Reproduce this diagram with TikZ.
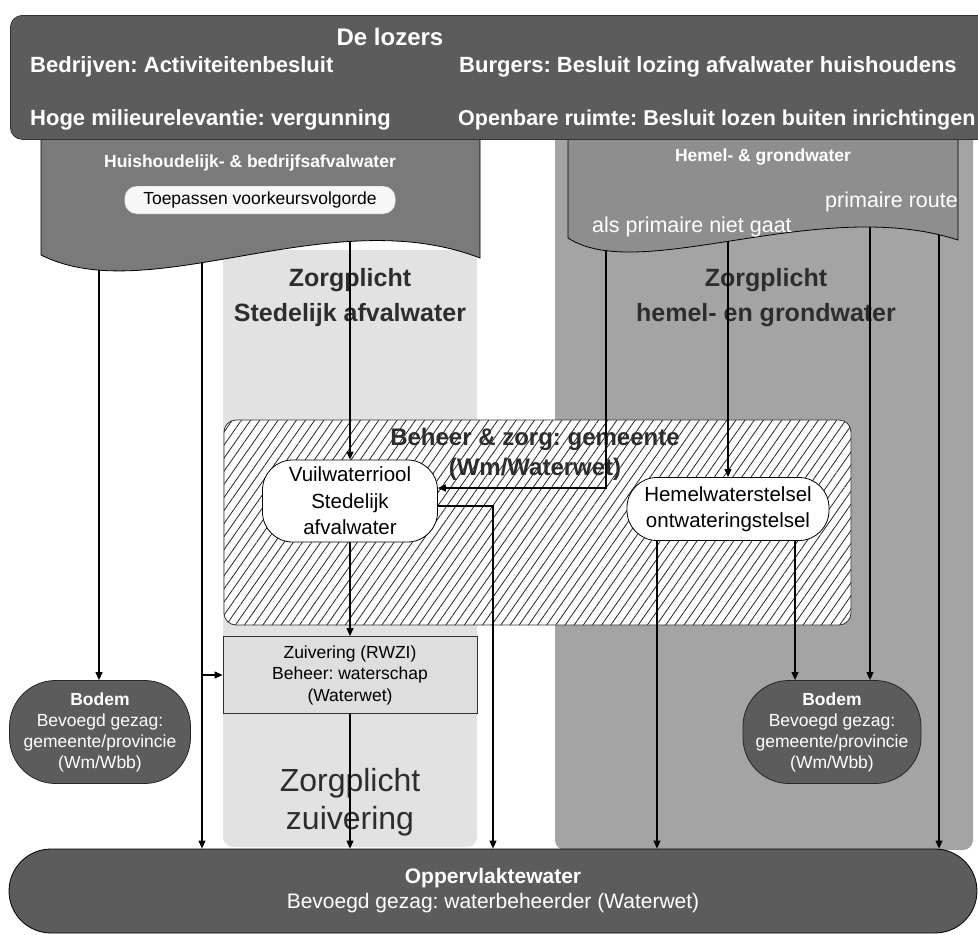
\documentclass[tikz,border=0pt]{standalone}
\usepackage{fontspec}
\setmainfont{Liberation Sans}
\usepackage{xcolor}
\definecolor{figdark}{RGB}{92,92,92}
\definecolor{figdocl}{RGB}{122,122,122}
\definecolor{figdocr}{RGB}{142,142,142}
\definecolor{figregion}{RGB}{164,164,164}
\definecolor{figlight}{RGB}{226,226,226}
\definecolor{figtext}{RGB}{45,45,45}
\usepackage{tikz}
\usetikzlibrary{arrows.meta,patterns.meta,positioning,calc}
\pgfdeclarelayer{bg}
\pgfdeclarelayer{mid}
\pgfsetlayers{bg,mid,main}
\frenchspacing

\begin{document}
\begin{tikzpicture}[x=1pt,y=-1pt,
  every node/.style={inner sep=0pt},
  toptxt/.style={anchor=west,text=white,font=\fontsize{22}{26}\selectfont\bfseries},
  doclbl/.style={text=white,font=\fontsize{17.5}{21}\selectfont\bfseries},
  wavelbl/.style={anchor=west,text=white,font=\fontsize{21.5}{25}\selectfont},
  zorg/.style={align=center,text=figtext,font=\fontsize{25}{35}\selectfont\bfseries},
  pill/.style={draw=black!45,fill=black!3,rounded corners=12pt,minimum width=271pt,minimum height=28pt,font=\fontsize{17.5}{21}\selectfont},
  riool/.style={draw,thick,fill=white,rounded corners=30pt,align=center,font=\fontsize{20.5}{26.5}\selectfont},
  zuiv/.style={draw=black!80,thick,fill=black!13,align=center,font=\fontsize{17.5}{21.5}\selectfont},
  bodem/.style={draw=black!85,thick,fill=figdark,text=white,rounded corners=46pt,align=center,font=\fontsize{17.5}{21}\selectfont},
  ar/.style={-{Triangle[length=8pt,width=7pt]},line width=1.1pt,black}
]
\useasboundingbox (0,0) rectangle (978,935);

% achtergrond: zorgplicht-kolommen
\begin{pgfonlayer}{bg}
\fill[figlight,rounded corners=10pt] (223,250) rectangle (477,847);
\fill[figregion,rounded corners=10pt] (555,130) rectangle (973,850);
\node[zorg] (zstad) at (350,298) {Zorgplicht\\Stedelijk afvalwater};
\node[zorg] (zhemel) at (766,298) {Zorgplicht\\hemel- en grondwater};
\node[zorg,font=\fontsize{32}{38}\selectfont] (zzuiv) at (350,802) {Zorgplicht\\zuivering};
\node[draw=black!80,line width=0.8pt,rounded corners=12pt,minimum width=627pt,minimum height=205pt,
  preaction={fill=white},pattern={Lines[angle=55,distance=7.5pt,line width=0.8pt]},pattern color=black!85]
  (beheer) at (537.5,522.5) {};
\node[align=center,text=figtext,font=\fontsize{24}{30}\selectfont\bfseries] (beheertitel) at (535,454)
  {Beheer \& zorg: gemeente\\(Wm/Waterwet)};
\end{pgfonlayer}

% de lozers en de twee waterstromen
\draw[fill=figdocl,thick] (41,135) -- (41,255) .. controls (150,310) and (330,200) .. (480,258) -- (480,135) -- cycle;
\draw[fill=figdocr,thick] (568,135) -- (568,238) .. controls (640,285) and (820,195) .. (958,240) -- (958,135) -- cycle;
\node[draw=black!80,thick,fill=figdark,rounded corners=12pt,minimum width=985pt,minimum height=124pt,anchor=north west]
  (lozers) at (10,15) {};
\node[text=white,font=\fontsize{24}{28}\selectfont\bfseries] (lozertitel) at (390,37) {De lozers};
\node[toptxt] (bedr) at (30,67) {Bedrijven: Activiteitenbesluit};
\node[toptxt] (burg) at (459,67) {Burgers: Besluit lozing afvalwater huishoudens};
\node[toptxt] (hoge) at (30,120) {Hoge milieurelevantie: vergunning};
\node[toptxt,font=\fontsize{21.5}{26}\selectfont\bfseries] (openb) at (458,120) {Openbare ruimte: Besluit lozen buiten inrichtingen};
\node[doclbl] (huish) at (250,163) {Huishoudelijk- \& bedrijfsafvalwater};
\node[pill] (voork) at (260,200) {Toepassen voorkeursvolgorde};
\node[doclbl] (hemelgr) at (763,157) {Hemel- \& grondwater};
\node[wavelbl] (prim) at (825,202) {primaire route};
\node[wavelbl] (alsprim) at (592,227) {als primaire niet gaat};

% stelsels, zuivering en ontvangers
\node[riool,minimum width=175pt,minimum height=82pt] (riool) at (350,501) {Vuilwaterriool\\Stedelijk\\afvalwater};
\node[riool,minimum width=202pt,minimum height=63pt] (hemel) at (728,509) {Hemelwaterstelsel\\ontwateringstelsel};
\node[zuiv,minimum width=254pt,minimum height=77pt] (zuiv) at (350,675) {Zuivering (RWZI)\\Beheer: waterschap\\(Waterwet)};
\node[bodem,minimum width=181pt,minimum height=103pt] (bodemL) at (100,732) {\textbf{Bodem}\\Bevoegd gezag:\\gemeente/provincie\\(Wm/Wbb)};
\node[bodem,minimum width=178pt,minimum height=103pt] (bodemR) at (832,732) {\textbf{Bodem}\\Bevoegd gezag:\\gemeente/provincie\\(Wm/Wbb)};
\node[bodem,draw=black,rounded corners=42pt,minimum width=968pt,minimum height=84pt,font=\fontsize{21}{25}\selectfont]
  (opp) at (493,891) {\textbf{Oppervlaktewater}\\Bevoegd gezag: waterbeheerder (Waterwet)};

% startpunten onder de golfranden
\coordinate (l1) at (99,200);
\coordinate (l2) at (202,200);
\coordinate (l3) at (350,200);
\coordinate (r1) at (606,200);
\coordinate (r2) at (728,200);
\coordinate (r3) at (870,200);
\coordinate (r4) at (939,200);
\coordinate (h1) at ([xshift=-71pt]hemel.south);
\coordinate (h2) at ([xshift=67pt]hemel.south);

\begin{pgfonlayer}{mid}
\draw[ar] (l1) -- (l1 |- bodemL.north);
\draw[ar] (l2) -- (l2 |- opp.north);
\draw[ar] (l2 |- zuiv.west) -- (zuiv.west);
\draw[ar] (l3) -- (riool.north);
\draw[ar] (riool.south) -- (zuiv.north);
\draw[ar] (zuiv.south) -- (zuiv.south |- opp.north);
\draw[ar] ([yshift=-5pt]riool.east) -| (opp.north);
\draw[ar] (r1) |- ([yshift=13pt]riool.east);
\draw[ar] (r2) -- (hemel.north);
\draw[ar] (r3) -- (r3 |- bodemR.north);
\draw[ar] (r4) -- (r4 |- opp.north);
\draw[ar] (h1) -- (h1 |- opp.north);
\draw[ar] (h2) -- (h2 |- bodemR.north);
\end{pgfonlayer}
\end{tikzpicture}
\end{document}
